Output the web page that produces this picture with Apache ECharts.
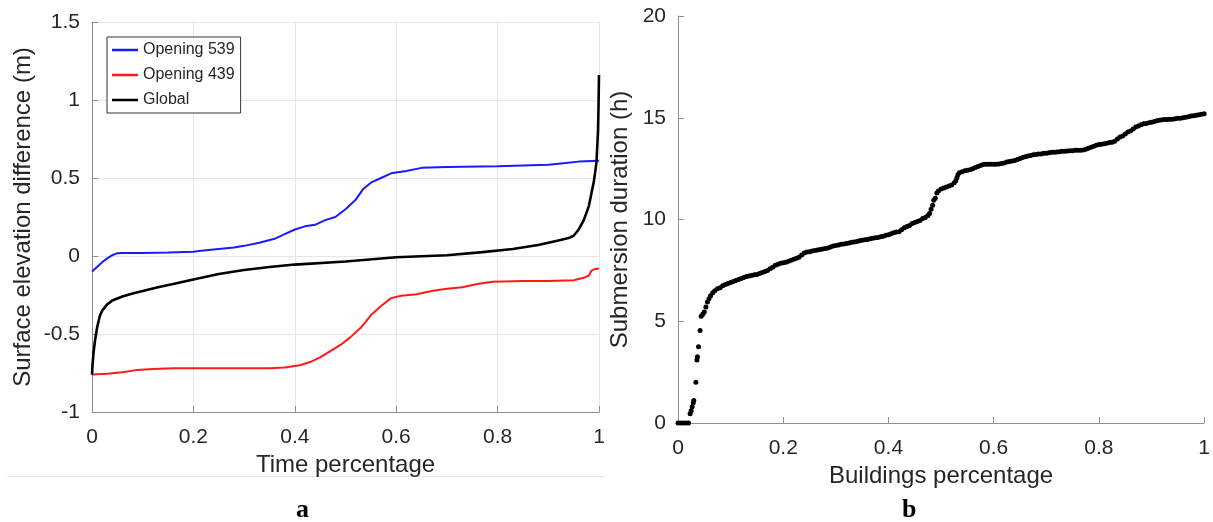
<!DOCTYPE html>
<html><head><meta charset="utf-8">
<script src="https://cdn.jsdelivr.net/npm/echarts@6/dist/echarts.min.js"></script>
<style>html,body{margin:0;padding:0;background:#fff}#c{width:1213px;height:522px}</style>
</head><body><div id="c"></div>
<script>
// ---- Panel a: surface elevation difference vs time percentage ----
const x539 = [0,0.01,0.02,0.03,0.04,0.05,0.06,0.1,0.15,0.2,0.22,0.25,0.28,0.3,0.33,0.36,0.38,0.4,0.42,0.44,0.46,0.48,0.5,0.52,0.535,0.55,0.57,0.59,0.62,0.65,0.7,0.8,0.85,0.9,0.93,0.96,1.0];
const y539 = [-0.10,-0.07,-0.04,-0.015,0.005,0.018,0.02,0.02,0.022,0.028,0.035,0.045,0.055,0.065,0.085,0.11,0.14,0.17,0.19,0.20,0.23,0.25,0.30,0.36,0.43,0.47,0.50,0.53,0.545,0.565,0.57,0.575,0.58,0.585,0.595,0.605,0.61];
const x439 = [0,0.03,0.06,0.09,0.12,0.16,0.25,0.35,0.38,0.41,0.43,0.45,0.47,0.49,0.51,0.53,0.55,0.57,0.59,0.61,0.64,0.67,0.70,0.73,0.76,0.79,0.85,0.9,0.95,0.97,0.98,0.985,0.99,1.0];
const y439 = [-0.76,-0.755,-0.745,-0.73,-0.725,-0.72,-0.72,-0.72,-0.715,-0.70,-0.68,-0.65,-0.61,-0.57,-0.52,-0.46,-0.38,-0.32,-0.27,-0.255,-0.245,-0.225,-0.21,-0.2,-0.18,-0.165,-0.16,-0.16,-0.155,-0.14,-0.125,-0.095,-0.085,-0.08];
const xGlobal = [0,0.001,0.003,0.006,0.01,0.015,0.02,0.03,0.04,0.06,0.08,0.1,0.13,0.16,0.2,0.25,0.3,0.35,0.4,0.5,0.6,0.7,0.77,0.83,0.88,0.92,0.94,0.95,0.96,0.97,0.98,0.985,0.99,0.995,0.998,0.999,1.0];
const yGlobal = [-0.76,-0.70,-0.62,-0.54,-0.46,-0.39,-0.35,-0.31,-0.285,-0.26,-0.24,-0.225,-0.2,-0.18,-0.15,-0.115,-0.09,-0.07,-0.055,-0.035,-0.008,0.005,0.025,0.045,0.07,0.1,0.115,0.13,0.17,0.23,0.32,0.4,0.48,0.6,0.8,0.95,1.16];

// ---- Panel b: submersion duration vs buildings percentage ----
const buildingsPct = [0,0.005,0.01,0.015,0.02,0.023,0.025,0.027,0.029,0.03,0.034,0.036,0.037,0.039,0.042,0.044,0.047,0.05,0.053,0.056,0.059,0.062,0.066,0.07,0.075,0.08,0.085,0.09,0.095,0.1,0.105,0.11,0.115,0.12,0.125,0.13,0.135,0.14,0.145,0.15,0.155,0.16,0.165,0.17,0.175,0.18,0.185,0.19,0.195,0.2,0.205,0.21,0.215,0.22,0.225,0.23,0.235,0.24,0.245,0.25,0.255,0.26,0.265,0.27,0.275,0.28,0.285,0.29,0.295,0.3,0.305,0.31,0.315,0.32,0.325,0.33,0.335,0.34,0.345,0.35,0.355,0.36,0.365,0.37,0.375,0.38,0.385,0.39,0.395,0.4,0.405,0.41,0.415,0.42,0.425,0.43,0.435,0.44,0.445,0.45,0.455,0.46,0.465,0.47,0.475,0.478,0.481,0.484,0.486,0.489,0.492,0.495,0.5,0.505,0.51,0.515,0.52,0.525,0.528,0.53,0.532,0.535,0.54,0.545,0.55,0.555,0.56,0.565,0.57,0.575,0.58,0.585,0.59,0.595,0.6,0.605,0.61,0.615,0.62,0.625,0.63,0.635,0.64,0.645,0.65,0.655,0.66,0.665,0.67,0.675,0.68,0.685,0.69,0.695,0.7,0.705,0.71,0.715,0.72,0.725,0.73,0.735,0.74,0.745,0.75,0.755,0.76,0.765,0.77,0.775,0.78,0.785,0.79,0.795,0.8,0.805,0.81,0.815,0.82,0.825,0.83,0.835,0.84,0.845,0.85,0.855,0.86,0.865,0.87,0.875,0.88,0.885,0.89,0.895,0.9,0.905,0.91,0.915,0.92,0.925,0.93,0.935,0.94,0.945,0.95,0.955,0.96,0.965,0.97,0.975,0.98,0.985,0.99,0.995,1.0];
const submersionH = [0,0,0,0,0,0.45,0.6,0.8,1.0,1.1,2.0,3.1,3.25,3.75,4.55,5.25,5.35,5.45,5.7,5.95,6.1,6.25,6.4,6.5,6.6,6.65,6.75,6.8,6.85,6.9,6.95,7.0,7.05,7.1,7.15,7.2,7.22,7.25,7.28,7.3,7.35,7.4,7.45,7.5,7.58,7.65,7.75,7.8,7.85,7.88,7.9,7.95,8.0,8.05,8.1,8.15,8.25,8.35,8.4,8.42,8.45,8.48,8.5,8.52,8.55,8.58,8.6,8.65,8.7,8.72,8.75,8.78,8.8,8.82,8.85,8.88,8.9,8.92,8.95,8.98,9.0,9.02,9.05,9.08,9.1,9.12,9.15,9.18,9.22,9.25,9.3,9.35,9.38,9.4,9.5,9.6,9.65,9.7,9.8,9.85,9.9,9.95,10.05,10.1,10.2,10.3,10.5,10.7,10.95,11.05,11.3,11.4,11.5,11.55,11.6,11.65,11.7,11.8,11.9,12.05,12.2,12.3,12.35,12.4,12.42,12.45,12.5,12.55,12.6,12.65,12.7,12.72,12.72,12.72,12.72,12.72,12.73,12.75,12.78,12.82,12.85,12.88,12.9,12.95,13.0,13.05,13.08,13.12,13.15,13.18,13.2,13.22,13.22,13.25,13.25,13.28,13.3,13.3,13.32,13.33,13.35,13.35,13.37,13.38,13.38,13.4,13.4,13.4,13.42,13.45,13.5,13.55,13.6,13.65,13.68,13.7,13.72,13.75,13.78,13.8,13.85,13.95,14.05,14.1,14.2,14.3,14.35,14.45,14.55,14.6,14.65,14.7,14.72,14.75,14.78,14.82,14.85,14.88,14.9,14.92,14.92,14.93,14.93,14.95,14.97,14.98,15.0,15.02,15.05,15.08,15.1,15.12,15.15,15.17,15.2];

const pairs = (xs, ys) => xs.map((x, i) => [x, ys[i]]);
const FONT = '"Liberation Sans", Arial, Helvetica, sans-serif';
const TXT = '#262626';
const AX = '#8f8f8f';

function xAxisCfg(gridIndex, name, nameGap, grid) {
  return {
    type: 'value', gridIndex, min: 0, max: 1, interval: 0.2,
    name, nameLocation: 'middle', nameGap,
    nameTextStyle: { fontFamily: FONT, fontSize: 24, color: TXT },
    axisLine: { show: true, onZero: false, lineStyle: { color: AX, width: 1 } },
    axisTick: { show: true, inside: true, length: 6, lineStyle: { color: AX } },
    axisLabel: { fontFamily: FONT, fontSize: 21, color: TXT, margin: 15 },
    splitLine: { show: grid, lineStyle: { color: '#e6e6e6', width: 1 } }
  };
}
function yAxisCfg(gridIndex, name, nameGap, min, max, interval, grid) {
  return {
    type: 'value', gridIndex, min, max, interval,
    name, nameLocation: 'middle', nameGap,
    nameTextStyle: { fontFamily: FONT, fontSize: 24, color: TXT },
    axisLine: { show: true, onZero: false, lineStyle: { color: AX, width: 1 } },
    axisTick: { show: true, inside: true, length: 6, lineStyle: { color: AX } },
    axisLabel: { fontFamily: FONT, fontSize: 21, color: TXT, margin: 12 },
    splitLine: { show: grid, lineStyle: { color: '#e6e6e6', width: 1 } }
  };
}

const chart = echarts.init(document.getElementById('c'), null, { renderer: 'canvas' });
chart.setOption({
  animation: false,
  backgroundColor: '#fff',
  grid: [
    { left: 92, top: 22, width: 507, height: 390, containLabel: false },
    { left: 678, top: 16, width: 528, height: 407, containLabel: false }
  ],
  xAxis: [
    xAxisCfg(0, 'Time percentage', 38, true),
    xAxisCfg(1, 'Buildings percentage', 38, false)
  ],
  yAxis: [
    yAxisCfg(0, 'Surface elevation difference (m)', 57, -1, 1.5, 0.5, true),
    yAxisCfg(1, 'Submersion duration (h)', 46, 0, 20, 5, false)
  ],
  legend: {
    orient: 'vertical', left: 107, top: 37,
    padding: [3, 6, 3, 5], itemGap: 5, itemWidth: 26, itemHeight: 2.5,
    icon: 'rect',
    backgroundColor: '#fff', borderColor: '#333', borderWidth: 1, borderRadius: 0,
    textStyle: { fontFamily: FONT, fontSize: 16, color: TXT, lineHeight: 20, padding: [0, 0, 0, 0] },
    data: ['Opening 539', 'Opening 439', 'Global']
  },
  series: [
    { name: 'Opening 539', type: 'line', xAxisIndex: 0, yAxisIndex: 0, data: pairs(x539, y539),
      symbol: 'none', lineStyle: { color: '#1a1aff', width: 2 }, itemStyle: { color: '#1a1aff' } },
    { name: 'Opening 439', type: 'line', xAxisIndex: 0, yAxisIndex: 0, data: pairs(x439, y439),
      symbol: 'none', lineStyle: { color: '#ff1a1a', width: 2 }, itemStyle: { color: '#ff1a1a' } },
    { name: 'Global', type: 'line', xAxisIndex: 0, yAxisIndex: 0, data: pairs(xGlobal, yGlobal),
      symbol: 'none', lineStyle: { color: '#000', width: 2.6 }, itemStyle: { color: '#000' } },
    { name: 'Buildings', type: 'scatter', xAxisIndex: 1, yAxisIndex: 1, data: pairs(buildingsPct, submersionH),
      symbol: 'circle', symbolSize: 5, itemStyle: { color: '#000', opacity: 1 } }
  ],
  graphic: [
    { type: 'line', shape: { x1: 7, y1: 476.5, x2: 605, y2: 476.5 }, style: { stroke: '#e2e2e2', lineWidth: 1 } },
    { type: 'text', left: 296, top: 497, style: { text: 'a', font: 'bold 26px "Liberation Serif", "Times New Roman", serif', fill: '#000' } },
    { type: 'text', left: 902, top: 497, style: { text: 'b', font: 'bold 26px "Liberation Serif", "Times New Roman", serif', fill: '#000' } }
  ]
});
</script>
</body></html>
